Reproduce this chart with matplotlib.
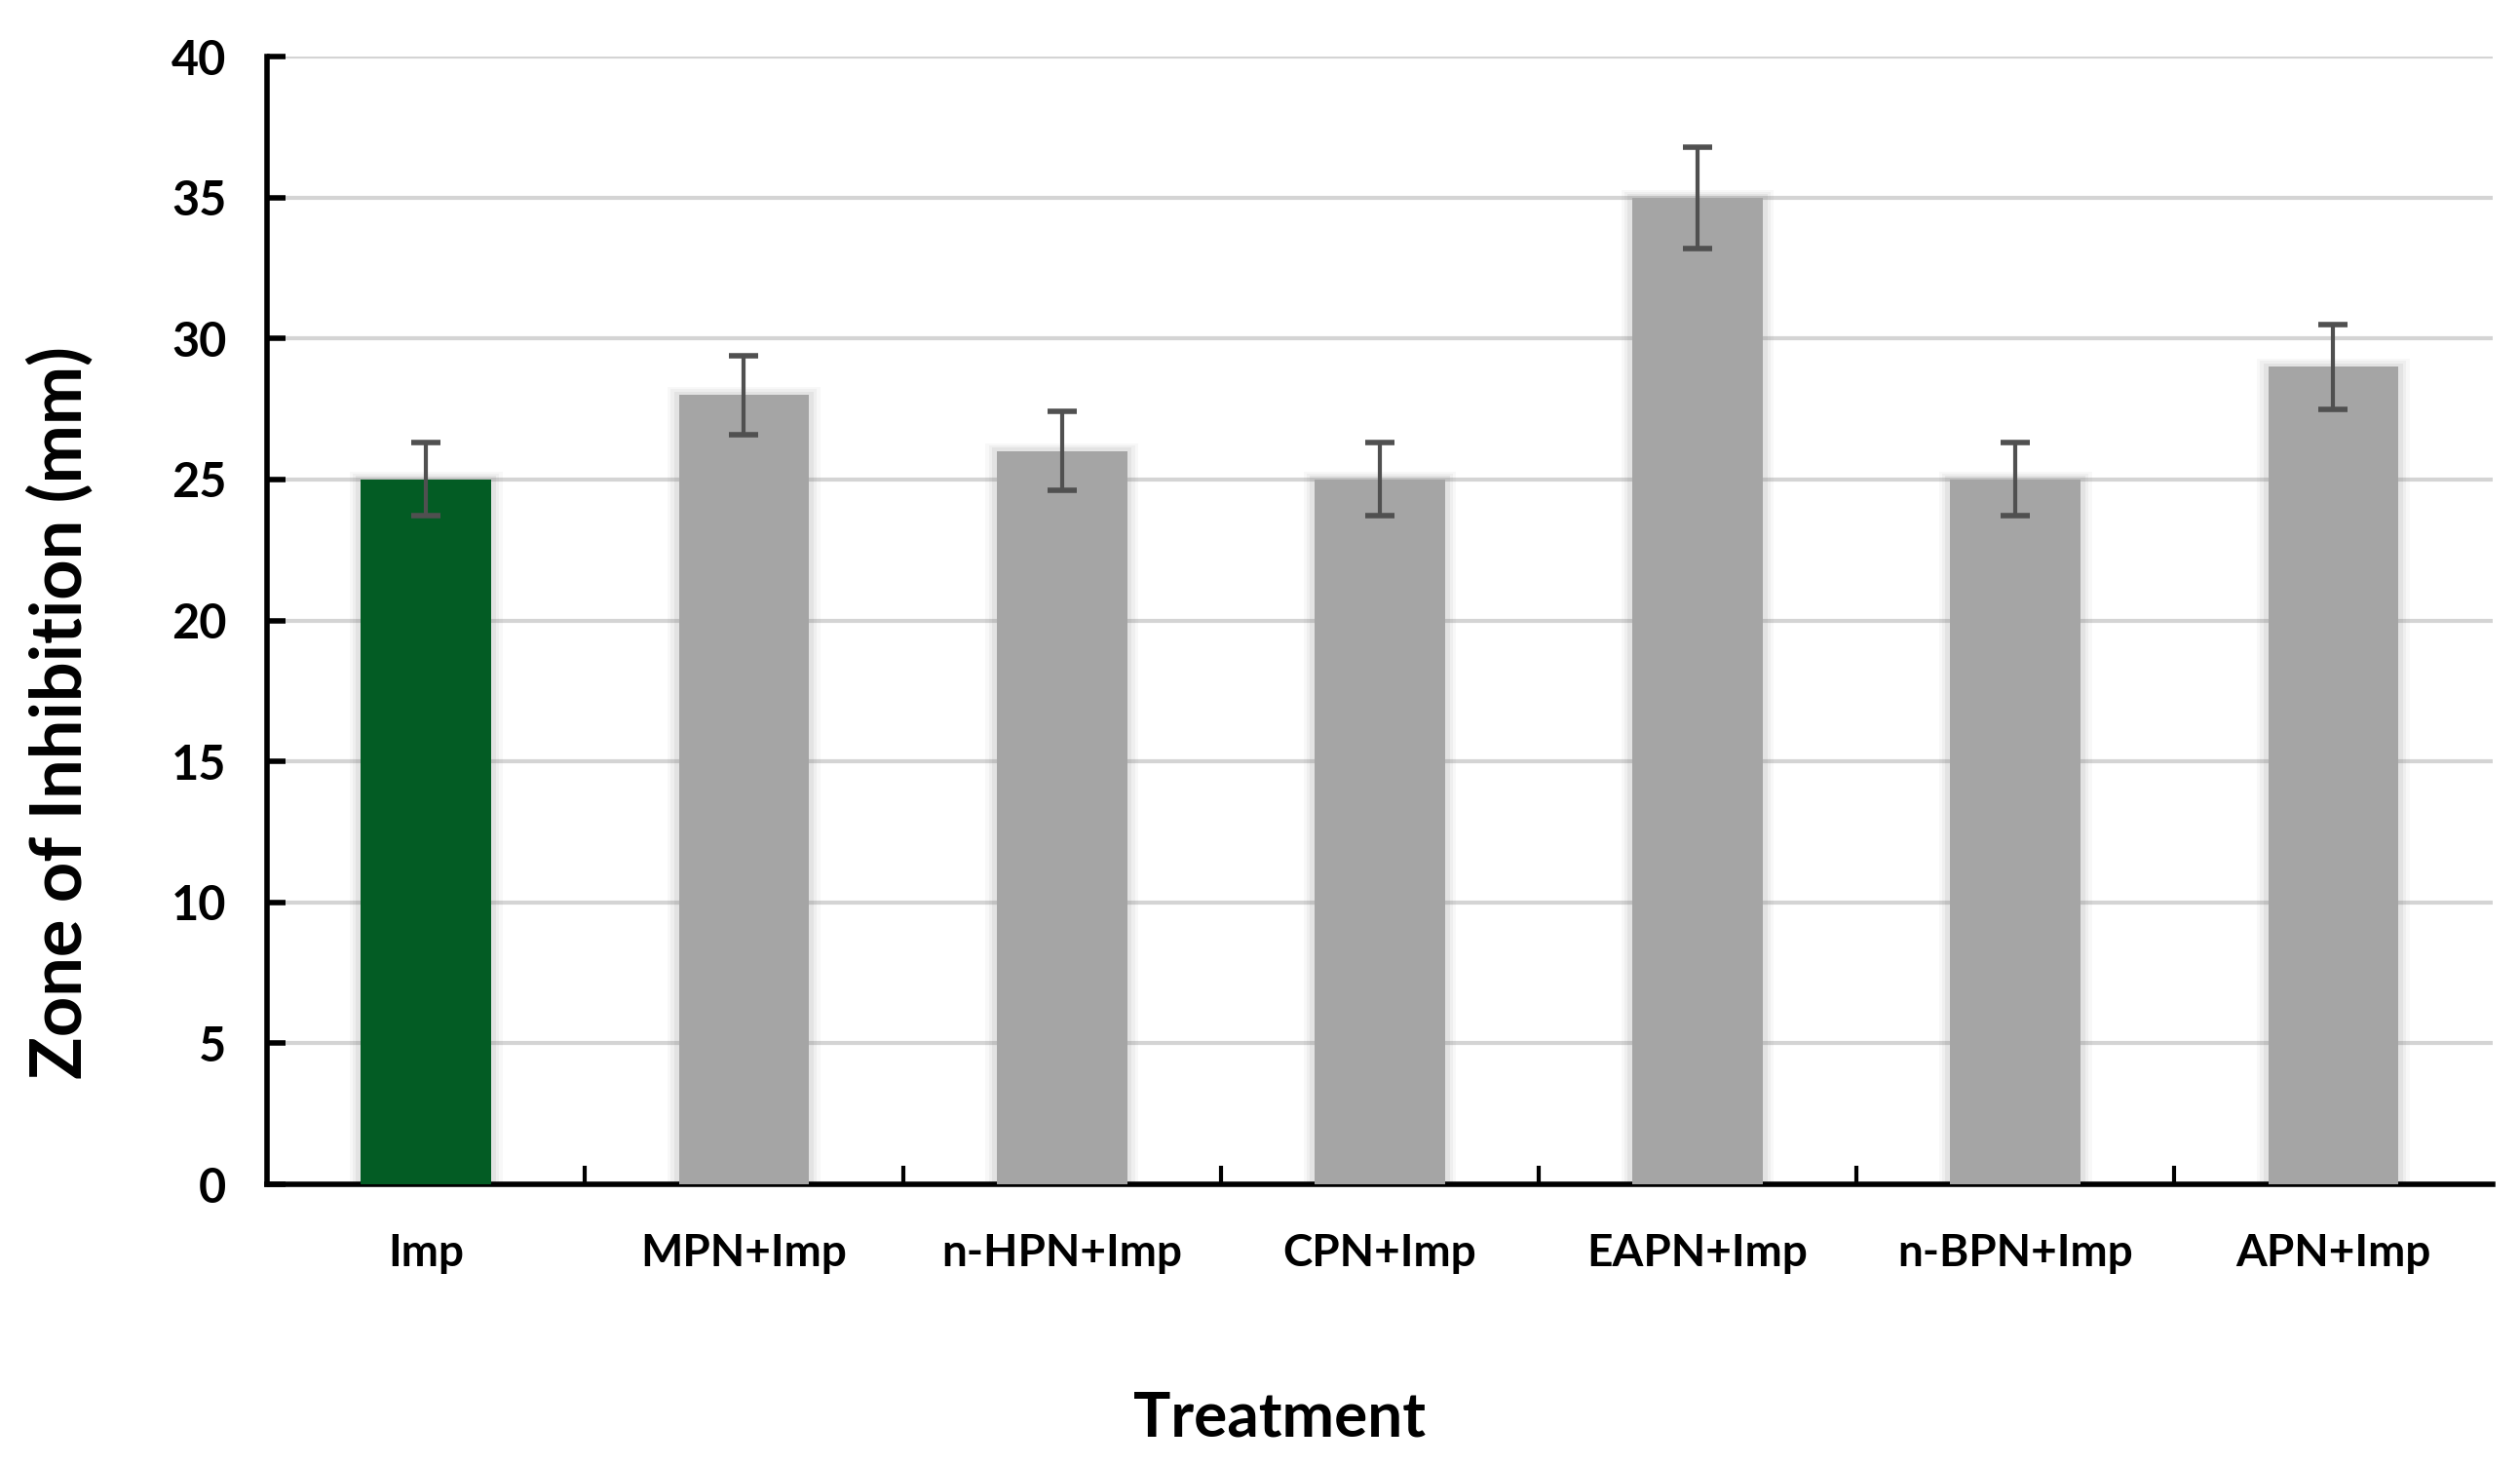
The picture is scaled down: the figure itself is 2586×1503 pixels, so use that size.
import numpy as np
import matplotlib.pyplot as plt

treatments = ["Imp", "MPN+Imp", "n-HPN+Imp", "CPN+Imp", "EAPN+Imp", "n-BPN+Imp", "APN+Imp"]
zone_mm = [25, 28, 26, 25, 35, 25, 29]
zone_err = [1.3, 1.4, 1.4, 1.3, 1.8, 1.3, 1.5]
bar_colors = ["#035C24", "#A5A5A5", "#A5A5A5", "#A5A5A5", "#A5A5A5", "#A5A5A5", "#A5A5A5"]

plt.rcParams["font.family"] = ["Lato", "DejaVu Sans"]

fig = plt.figure(figsize=(25.86, 15.03), dpi=100)
ax = fig.add_axes([0.106, 0.1916, 0.883, 0.7698])

x = np.arange(len(treatments))
width = 0.41

# soft glow around the bars
for k, a in zip([0.07, 0.05, 0.03], [0.05, 0.07, 0.10]):
    ax.bar(x, np.array(zone_mm) + k * 4, width=width + k, color="#808080", alpha=a,
           zorder=2, linewidth=0)

ax.bar(x, zone_mm, width=width, color=bar_colors, zorder=3, linewidth=0)
ax.errorbar(x, zone_mm, yerr=zone_err, fmt="none", ecolor="#505050", elinewidth=3,
            capsize=11, capthick=4, zorder=4)

ax.set_xlim(-0.5, len(treatments) - 0.5)
ax.set_ylim(0, 40)
ax.set_yticks(range(0, 41, 5))
ax.yaxis.grid(True, color="#D4D4D4", linewidth=3)
ax.set_axisbelow(True)

ax.set_xticks(x)
ax.set_xticklabels(treatments, fontsize=33, fontweight="bold")
ax.set_xticks(np.arange(0.5, len(treatments) - 1, 1), minor=True)
ax.tick_params(axis="x", which="major", length=0, pad=36)
ax.tick_params(axis="x", which="minor", direction="in", length=14, width=3)
ax.tick_params(axis="y", direction="in", length=14, width=4, pad=30, labelsize=35)
for lab in ax.get_yticklabels():
    lab.set_fontweight("bold")

for s in ["top", "right"]:
    ax.spines[s].set_visible(False)
ax.spines["left"].set_linewidth(4)
ax.spines["bottom"].set_linewidth(4)

ax.set_ylabel("Zone of Inhibition (mm)", fontsize=52, fontweight="bold")
ax.yaxis.set_label_coords(-0.078, 0.418)
ax.set_xlabel("Treatment", fontsize=46, fontweight="bold")
ax.xaxis.set_label_coords(0.455, -0.183)

fig.savefig("out.png", dpi=100)
